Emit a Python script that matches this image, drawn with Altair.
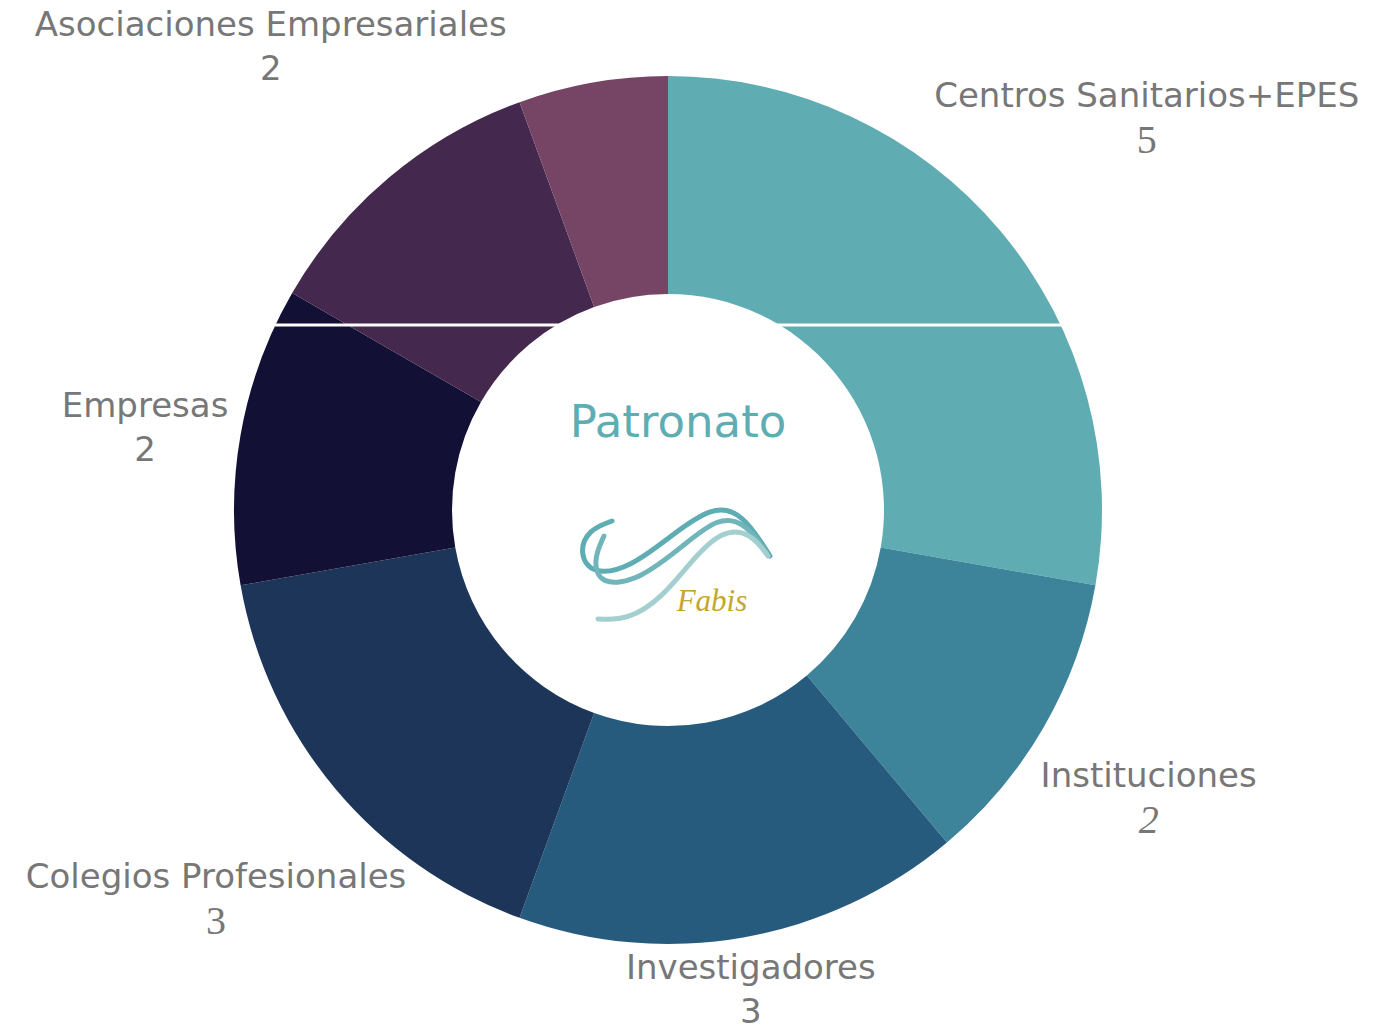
import altair as alt
import pandas as pd

# ---- data ----
categories = ["Centros  Sanitarios+EPES", "Instituciones", "Investigadores",
              "Colegios Profesionales", "Empresas", "Asociaciones Empresariales", ""]
values = [5, 2, 3, 3, 2, 2, 1]
value_labels = ["5", "2", "3", "3", "2", "2", ""]
colors = ["#5FADB3", "#3D8399", "#275B7E", "#1D3559", "#121034", "#45284E", "#764565"]

# label layout (distance of each label from the centre, in px) and number font style
label_radius = [625, 555, 477, 590, 531, 618, 0]
number_style = ["serif", "serif_italic", "sans", "serif", "sans", "sans", "sans"]

# decorative logo strokes (approximate)
logo_a_x = [612, 588, 579, 592, 630, 672, 712, 742, 770]
logo_a_y = [521, 530, 553, 575, 568, 535, 506, 512, 556]
logo_b_x = [604, 593, 600, 640, 684, 718, 745, 766]
logo_b_y = [536, 560, 586, 580, 545, 517, 522, 552]
logo_c_x = [598, 628, 662, 692, 722, 750, 768]
logo_c_y = [619, 620, 598, 560, 530, 532, 556]

df = pd.DataFrame({
    "idx": list(range(len(categories))),
    "cat": categories,
    "val": values,
    "num": value_labels,
    "lr": label_radius,
    "ns": number_style,
})

W, H = 1336, 1020  # centre at (668, 510)

arcs = alt.Chart(df).mark_arc(outerRadius=434, innerRadius=216, stroke=None).encode(
    theta=alt.Theta("val:Q", stack=True),
    order=alt.Order("idx:Q"),
    color=alt.Color("idx:N", scale=alt.Scale(domain=list(range(len(categories))), range=colors), legend=None),
)

# label angles: middle of each slice, computed by Vega transforms
lab_base = alt.Chart(df).transform_window(
    cum="sum(val)", sort=[alt.SortField("idx")], frame=[None, 0]
).transform_joinaggregate(
    total="sum(val)"
).transform_calculate(
    ang="2*PI*(datum.cum - datum.val/2)/datum.total"
).encode(
    theta=alt.Theta("ang:Q", scale=None),
    radius=alt.Radius("lr:Q", scale=None),
)

names = lab_base.mark_text(font="DejaVu Sans", fontSize=34, color="#777777", baseline="middle", dy=-11).encode(
    text="cat:N",
)

def num_layer(style, font, fstyle, size):
    return lab_base.mark_text(font=font, fontSize=size, fontStyle=fstyle, color="#777777",
                              baseline="middle", dy=33).encode(
        text="num:N",
    ).transform_filter(alt.datum.ns == style)

nums_sans = num_layer("sans", "DejaVu Sans", "normal", 34)
nums_serif = num_layer("serif", "Liberation Serif", "normal", 40)
nums_serif_it = num_layer("serif_italic", "Liberation Serif", "italic", 40)

# white artifact line across the ring
line_df = pd.DataFrame({"x1": [275], "x2": [1090], "y": [325]})
white_line = alt.Chart(line_df).mark_rule(color="white", strokeWidth=3).encode(
    x=alt.X("x1:Q", scale=None), x2="x2:Q", y=alt.Y("y:Q", scale=None)
)

title_df = pd.DataFrame({"t": ["Patronato"], "x": [678], "y": [423]})
center_title = alt.Chart(title_df).mark_text(font="DejaVu Sans", fontSize=45, color="#5EADB2").encode(
    x=alt.X("x:Q", scale=None), y=alt.Y("y:Q", scale=None), text="t:N"
)

fabis_df = pd.DataFrame({"t": ["Fabis"], "x": [712], "y": [602]})
fabis = alt.Chart(fabis_df).mark_text(font="Liberation Serif", fontSize=31, fontStyle="italic",
                                      color="#C4A62E").encode(
    x=alt.X("x:Q", scale=None), y=alt.Y("y:Q", scale=None), text="t:N"
)

logo_rows = []
for name, xs, ys in [("a", logo_a_x, logo_a_y), ("b", logo_b_x, logo_b_y), ("c", logo_c_x, logo_c_y)]:
    for i, (x, y) in enumerate(zip(xs, ys)):
        logo_rows.append({"s": name, "i": i, "x": x, "y": y})
logo_df = pd.DataFrame(logo_rows)
logo = alt.Chart(logo_df).mark_line(interpolate="basis", strokeWidth=5, strokeCap="round").encode(
    x=alt.X("x:Q", scale=None), y=alt.Y("y:Q", scale=None),
    detail="s:N", order="i:Q",
    color=alt.Color("s:N", scale=alt.Scale(domain=["a", "b", "c"], range=["#5EADB2", "#6FB5B9", "#A3CFCF"]), legend=None),
)

chart = alt.layer(arcs, white_line, names, nums_sans, nums_serif, nums_serif_it,
                  center_title, logo, fabis).resolve_scale(color="independent").properties(
    width=W, height=H,
    autosize=alt.AutoSizeParams(type="none"),
    padding={"left": 0, "top": 0, "right": 1381 - W, "bottom": 1030 - H},
    background="white",
).configure_view(stroke=None)

chart.save("out.html", embed_options={"renderer": "svg", "actions": False})
